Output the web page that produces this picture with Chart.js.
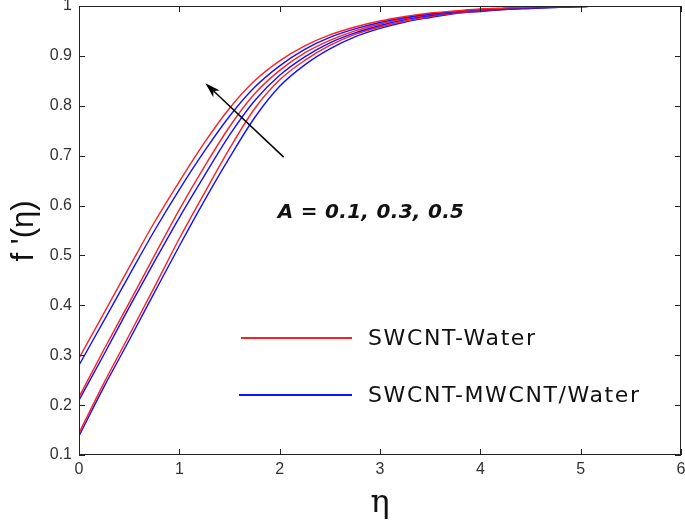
<!DOCTYPE html>
<html>
<head>
<meta charset="utf-8">
<script src="https://cdn.jsdelivr.net/npm/chart.js@4.4.1/dist/chart.umd.min.js"></script>
<style>
  html, body { margin: 0; padding: 0; background: #fff; }
  #wrap { width: 685px; height: 525px; }
</style>
</head>
<body>
<div id="wrap"><canvas id="chart"></canvas></div>
<script>
const eta = [0, 0.25, 0.5, 0.75, 1, 1.25, 1.5, 1.75, 2, 2.25, 2.5, 2.75, 3, 3.25, 3.5, 3.75, 4, 4.25, 4.5, 4.75, 5, 5.25, 5.5, 5.75, 6]

const red1 = [0.294, 0.385, 0.476, 0.566, 0.648, 0.726, 0.795, 0.850, 0.890, 0.920, 0.942, 0.958, 0.970, 0.979, 0.986, 0.990, 0.994, 0.996, 0.998, 0.999, 1, 1, 1, 1, 1]
const blue1 = [0.280, 0.370, 0.460, 0.549, 0.632, 0.709, 0.779, 0.837, 0.880, 0.913, 0.937, 0.954, 0.967, 0.977, 0.984, 0.989, 0.993, 0.995, 0.997, 0.998, 0.999, 1, 1, 1, 1]
const red2 = [0.216, 0.312, 0.405, 0.499, 0.592, 0.678, 0.758, 0.824, 0.871, 0.906, 0.931, 0.950, 0.964, 0.975, 0.983, 0.988, 0.992, 0.995, 0.997, 0.998, 0.999, 1, 1, 1, 1]
const blue2 = [0.210, 0.302, 0.396, 0.487, 0.576, 0.660, 0.741, 0.810, 0.861, 0.898, 0.926, 0.946, 0.961, 0.973, 0.981, 0.987, 0.991, 0.994, 0.996, 0.998, 0.999, 1, 1, 1, 1]
const red3 = [0.144, 0.245, 0.340, 0.436, 0.534, 0.625, 0.714, 0.794, 0.852, 0.891, 0.921, 0.943, 0.958, 0.970, 0.979, 0.986, 0.990, 0.994, 0.996, 0.998, 0.999, 1, 1, 1, 1]
const blue3 = [0.138, 0.237, 0.330, 0.425, 0.519, 0.610, 0.696, 0.776, 0.839, 0.882, 0.914, 0.938, 0.955, 0.968, 0.977, 0.985, 0.989, 0.993, 0.995, 0.997, 0.999, 1, 1, 1, 1]

const xTicks = [0, 1, 2, 3, 4, 5, 6]
const yTicks = [0.1, 0.2, 0.3, 0.4, 0.5, 0.6, 0.7, 0.8, 0.9, 1]
const yTickLabels = ['0.1', '0.2', '0.3', '0.4', '0.5', '0.6', '0.7', '0.8', '0.9', '1']

const legendLabels = ['SWCNT-Water', 'SWCNT-MWCNT/Water']
const noteText = 'A = 0.1, 0.3, 0.5'
// arrow tail / head in data units
const arrowFrom = { x: 2.04, y: 0.697 }
const arrowTo = { x: 1.26, y: 0.845 }
const noteAt = { x: 1.98, y: 0.585 }

const RED = '#ff2020'
const BLUE = '#1010ff'

function points(values) {
  return eta.map((x, i) => ({ x: x, y: values[i] }))
}

function line(values, color) {
  return {
    data: points(values),
    borderColor: color,
    borderWidth: 1.4,
    pointRadius: 0,
    fill: false,
    cubicInterpolationMode: 'monotone'
  }
}

const frame = {
  id: 'frame',
  afterDraw(chart) {
    const { ctx, chartArea: a, scales } = chart
    ctx.save()
    ctx.strokeStyle = '#222'
    ctx.lineWidth = 1
    ctx.strokeRect(a.left + 0.5, a.top + 0.5, a.right - a.left - 1, a.bottom - a.top - 1)

    const len = 6
    ctx.beginPath()
    xTicks.forEach(v => {
      const px = Math.round(scales.x.getPixelForValue(v)) + 0.5
      ctx.moveTo(px, a.bottom); ctx.lineTo(px, a.bottom - len)
      ctx.moveTo(px, a.top); ctx.lineTo(px, a.top + len)
    })
    yTicks.forEach(v => {
      const py = Math.round(scales.y.getPixelForValue(v)) + 0.5
      ctx.moveTo(a.left, py); ctx.lineTo(a.left + len, py)
      ctx.moveTo(a.right, py); ctx.lineTo(a.right - len, py)
    })
    ctx.stroke()

    // tick labels
    ctx.fillStyle = '#333'
    ctx.font = '16px "Liberation Sans"'
    ctx.textBaseline = 'middle'
    ctx.textAlign = 'center'
    xTicks.forEach(v => {
      ctx.fillText(String(v), scales.x.getPixelForValue(v), a.bottom + 15)
    })
    ctx.textAlign = 'right'
    yTicks.forEach((v, i) => {
      ctx.fillText(yTickLabels[i], a.left - 7, scales.y.getPixelForValue(v))
    })

    // axis titles
    ctx.fillStyle = '#111'
    ctx.textAlign = 'center'
    ctx.font = '32px "DejaVu Serif"'
    ctx.fillText('\u03b7', (a.left + a.right) / 2, 504)
    ctx.save()
    ctx.translate(24, 231)
    ctx.rotate(-Math.PI / 2)
    ctx.font = '31px "Liberation Sans"'
    ctx.fillText("f '(\u03b7)", 0, 0)
    ctx.restore()

    // arrow
    const x0 = scales.x.getPixelForValue(arrowFrom.x), y0 = scales.y.getPixelForValue(arrowFrom.y)
    const x1 = scales.x.getPixelForValue(arrowTo.x), y1 = scales.y.getPixelForValue(arrowTo.y)
    const ang = Math.atan2(y1 - y0, x1 - x0)
    ctx.strokeStyle = '#000'
    ctx.lineWidth = 1.5
    ctx.beginPath()
    ctx.moveTo(x0, y0)
    ctx.lineTo(x1 - 8 * Math.cos(ang), y1 - 8 * Math.sin(ang))
    ctx.stroke()
    ctx.fillStyle = '#000'
    ctx.beginPath()
    ctx.moveTo(x1, y1)
    ctx.lineTo(x1 - 16 * Math.cos(ang - 0.3), y1 - 16 * Math.sin(ang - 0.3))
    ctx.lineTo(x1 - 11 * Math.cos(ang), y1 - 11 * Math.sin(ang))
    ctx.lineTo(x1 - 16 * Math.cos(ang + 0.3), y1 - 16 * Math.sin(ang + 0.3))
    ctx.closePath()
    ctx.fill()

    // note
    ctx.font = 'italic bold 20px "DejaVu Sans"'
    ctx.letterSpacing = '0.3px'
    ctx.textAlign = 'left'
    ctx.fillStyle = '#111'
    ctx.fillText(noteText, scales.x.getPixelForValue(noteAt.x), scales.y.getPixelForValue(noteAt.y))

    // legend
    const colors = [RED, BLUE]
    const rows = [338, 395]
    ctx.font = '22px "DejaVu Sans"'
    ctx.letterSpacing = '1.6px'
    rows.forEach((ry, i) => {
      ctx.strokeStyle = colors[i]
      ctx.lineWidth = 2
      ctx.beginPath()
      ctx.moveTo(i === 0 ? 241 : 239, ry)
      ctx.lineTo(352, ry)
      ctx.stroke()
      ctx.fillStyle = '#111'
      ctx.fillText(legendLabels[i], 368, ry + 1)
    })
    ctx.restore()
  }
}

new Chart(document.getElementById('chart').getContext('2d'), {
  type: 'line',
  data: {
    datasets: [
      line(red1, RED), line(blue1, BLUE),
      line(red2, RED), line(blue2, BLUE),
      line(red3, RED), line(blue3, BLUE)
    ]
  },
  options: {
    responsive: true,
    maintainAspectRatio: false,
    animation: false,
    layout: { padding: { left: 0, right: 4, top: 6, bottom: 0 } },
    plugins: {
      legend: { display: false },
      tooltip: { enabled: false }
    },
    scales: {
      x: {
        type: 'linear',
        min: 0,
        max: 6,
        afterFit: s => { s.height = 70 },
        grid: { display: false, drawTicks: false },
        border: { display: false },
        ticks: { display: false }
      },
      y: {
        min: 0.1,
        max: 1,
        afterFit: s => { s.width = 79 },
        grid: { display: false, drawTicks: false },
        border: { display: false },
        ticks: { display: false }
      }
    }
  },
  plugins: [frame]
})
</script>
</body>
</html>
